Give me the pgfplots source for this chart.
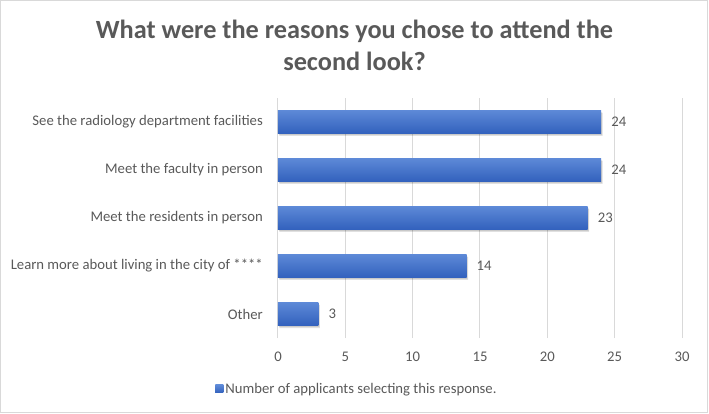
\documentclass[border=0pt]{standalone}
\usepackage{fontspec}
\setmainfont{Carlito}
\usepackage{pgfplots}
\pgfplotsset{compat=1.18}

\definecolor{txt}{RGB}{89,89,89}
\definecolor{gridc}{RGB}{217,217,217}
\definecolor{bartop}{RGB}{93,137,215}
\definecolor{barbot}{RGB}{50,97,189}
\definecolor{barmid}{RGB}{68,114,196}

\begin{document}
\begin{tikzpicture}
\path[use as bounding box] (-278bp,-76bp) rectangle (431bp,338bp);
\draw[gridc, line width=1bp] (-277bp,-74bp) rectangle (429bp,337bp);

\node[txt, font=\fontsize{26.3bp}{32bp}\selectfont\bfseries, align=center]
  at (76.5bp,293bp) {What were the reasons you chose to attend the\\second look?};

\begin{axis}[
    scale only axis,
    width=404bp, height=240bp,
    xmin=0, xmax=30,
    ymin=-0.5, ymax=4.5,
    xtick={0,5,10,15,20,25,30},
    ytick={0,1,2,3,4},
    yticklabels={Other, Learn more about living in the city of ****, Meet the residents in person, Meet the faculty in person, See the radiology department facilities},
    axis line style={draw=none},
    major tick length=0pt,
    xmajorgrids=true, ymajorgrids=false,
    grid style={color=gridc, line width=1bp},
    tick label style={font=\fontsize{14.7bp}{16bp}\selectfont, text=txt},
    /pgf/number format/assume math mode=true,
    y tick label style={inner sep=0pt, xshift=-15bp},
    x tick label style={inner sep=0pt, yshift=-14bp},
    legend style={at={(0.1955,-0.2125)}, anchor=center, draw=none, fill=none,
        font=\fontsize{14.7bp}{16bp}\selectfont, text=txt,
        /tikz/every even column/.append style={column sep=0pt}},
    legend image code/.code={\fill[barmid] (-1bp,-4bp) rectangle (7bp,4bp);},
    onebar/.style={xbar, bar width=23bp, bar shift=0pt, draw=none,
        top color=bartop, bottom color=barbot,
        point meta=x, nodes near coords,
        every node near coord/.append style={font=\fontsize{14.7bp}{16bp}\selectfont,
            text=txt, anchor=west, inner sep=0pt, xshift=10bp}},
]
% soft shadow under the bars
\addplot[xbar, bar width=23bp, bar shift=0pt, draw=none, fill=black, opacity=0.12,
    forget plot, /tikz/transform canvas={xshift=1.5bp, yshift=-2.5bp}]
  coordinates {(3,0) (14,1) (23,2) (24,3) (24,4)};
\addplot[xbar, bar width=23bp, bar shift=0pt, draw=none, fill=black, opacity=0.10,
    forget plot, /tikz/transform canvas={xshift=0.8bp, yshift=-1.3bp}]
  coordinates {(3,0) (14,1) (23,2) (24,3) (24,4)};

\addplot[onebar] coordinates {(3,0)};
\addlegendentry{Number of applicants selecting this response.}
\addplot[onebar, forget plot] coordinates {(14,1)};
\addplot[onebar, forget plot] coordinates {(23,2)};
\addplot[onebar, forget plot] coordinates {(24,3)};
\addplot[onebar, forget plot] coordinates {(24,4)};
\end{axis}
\end{tikzpicture}
\end{document}
